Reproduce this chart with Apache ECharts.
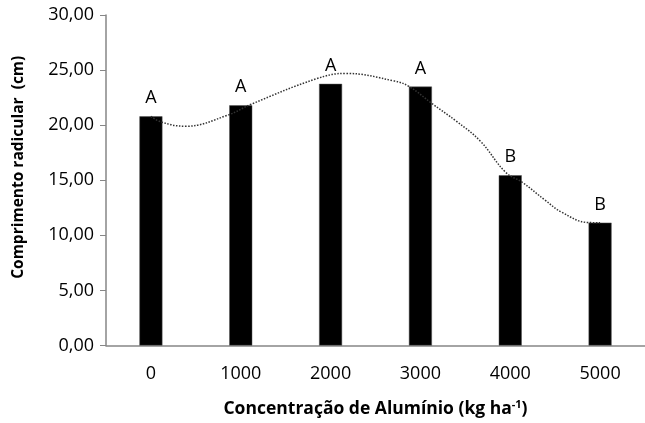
<!DOCTYPE html>
<html>
<head>
<meta charset="utf-8">
<script src="https://cdn.jsdelivr.net/npm/echarts@6/dist/echarts.min.js"></script>
<style>html,body{margin:0;padding:0;background:#fff;overflow:hidden}#c{width:645px;height:423px}</style>
</head>
<body>
<div id="c"></div>
<script>
const categories = ['0', '1000', '2000', '3000', '4000', '5000'];
const barValues = [20.8, 21.8, 23.75, 23.5, 15.45, 11.15];
const letters = ['A', 'A', 'A', 'A', 'B', 'B'];
const trendX = [0, 120, 383, 853, 1116, 1838, 2166, 2713, 2877, 3129, 3400, 3665, 3950, 4136, 4387, 4573, 4869, 5000];
const trendY = [20.8, 20.27, 19.9, 20.9, 21.9, 24.2, 24.7, 24.0, 23.5, 21.96, 20.36, 18.57, 15.71, 14.8, 13.2, 12.1, 11.16, 11.15];
const yTicks = { min: 0, max: 30, interval: 5 };

const font = '"Open Sans", "Liberation Sans", sans-serif';
const chart = echarts.init(document.getElementById('c'));
chart.setOption({
  animation: false,
  backgroundColor: '#fff',
  grid: { left: 106, top: 15, width: 548, bottom: 72, containLabel: false },
  xAxis: [{
    type: 'category',
    data: categories,
    axisLine: { lineStyle: { color: '#868686', width: 1.5 } },
    axisTick: { show: false },
    axisLabel: { color: '#000', fontSize: 18, fontFamily: font, margin: 19 },
    name: '{t|Concentração de Alumínio (kg ha}{s|-1}{t|)}',
    nameLocation: 'middle',
    nameGap: 54,
    nameTextStyle: {
      rich: {
        t: { fontSize: 17.5, fontWeight: 'bold', fontFamily: font, color: '#000' },
        s: { fontSize: 11, fontWeight: 'bold', fontFamily: font, color: '#000', verticalAlign: 'top', padding: [0, 0, 8, 0] }
      }
    }
  }, {
    type: 'value', min: -500, max: 5500, show: false
  }],
  yAxis: {
    type: 'value',
    min: yTicks.min, max: yTicks.max, interval: yTicks.interval,
    splitLine: { show: false },
    axisLine: { show: true, onZero: false, lineStyle: { color: '#868686', width: 1.5 } },
    axisTick: { show: true, length: 6, lineStyle: { color: '#868686' } },
    axisLabel: { color: '#000', fontSize: 18, fontFamily: font, margin: 12,
      formatter: v => v.toFixed(2).replace('.', ',') },
    name: 'Comprimento radicular  (cm)',
    nameLocation: 'middle',
    nameGap: 79,
    nameTextStyle: { fontSize: 15.5, fontWeight: 'bold', fontFamily: font, color: '#000', padding: [0, 0, 0, 26] }
  },
  series: [{
    type: 'bar',
    data: barValues.map((v, i) => ({ value: v, label: { formatter: letters[i] } })),
    barWidth: 23,
    itemStyle: { color: '#000', borderColor: '#555', borderWidth: 0.5 },
    label: { show: true, position: 'top', distance: 9, color: '#000', fontSize: 18, fontFamily: font },
    z: 2
  }, {
    type: 'line',
    xAxisIndex: 1,
    data: trendX.map((x, i) => [x, trendY[i]]),
    smooth: 0.4,
    showSymbol: false,
    symbol: 'none',
    lineStyle: { type: 'dotted', color: '#333', width: 1.5 },
    z: 3
  }]
});
</script>
</body>
</html>
